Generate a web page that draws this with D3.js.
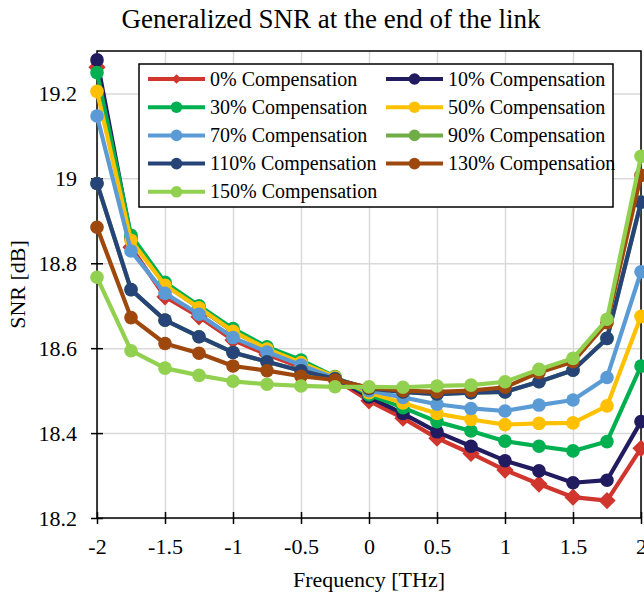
<!DOCTYPE html>
<html>
<head>
<meta charset="utf-8">
<script src="https://cdn.jsdelivr.net/npm/d3@7"></script>
<style>
  body { margin: 0; background: #fff; }
  svg text { font-family: "Liberation Serif", "Times New Roman", Times, serif; fill: #000; }
</style>
</head>
<body>
<div id="chart"></div>
<script>
// Frequency offsets [THz]
const frequencies = [-2, -1.75, -1.5, -1.25, -1, -0.75, -0.5, -0.25, 0, 0.25, 0.5, 0.75, 1, 1.25, 1.5, 1.75, 2];

// SNR [dB] per compensation level
const comp0 = [19.262, 18.838, 18.721, 18.674, 18.619, 18.585, 18.555, 18.527, 18.476, 18.435, 18.388, 18.352, 18.313, 18.280, 18.249, 18.241, 18.364];
const comp10 = [19.279, 18.858, 18.750, 18.695, 18.640, 18.600, 18.565, 18.530, 18.485, 18.446, 18.403, 18.369, 18.335, 18.311, 18.283, 18.289, 18.427];
const comp30 = [19.249, 18.866, 18.755, 18.700, 18.646, 18.603, 18.572, 18.533, 18.490, 18.460, 18.427, 18.405, 18.381, 18.369, 18.358, 18.380, 18.558];
const comp50 = [19.205, 18.854, 18.748, 18.695, 18.640, 18.598, 18.566, 18.532, 18.495, 18.471, 18.446, 18.432, 18.420, 18.423, 18.424, 18.464, 18.675];
const comp70 = [19.147, 18.829, 18.729, 18.680, 18.625, 18.591, 18.560, 18.529, 18.500, 18.484, 18.468, 18.458, 18.452, 18.466, 18.478, 18.531, 18.780];
const comp90 = [18.988, 18.738, 18.666, 18.627, 18.590, 18.568, 18.547, 18.528, 18.505, 18.497, 18.492, 18.495, 18.497, 18.521, 18.548, 18.623, 18.944];
const comp110 = [18.988, 18.738, 18.666, 18.627, 18.590, 18.568, 18.547, 18.528, 18.505, 18.497, 18.492, 18.495, 18.497, 18.521, 18.548, 18.623, 18.944];
const comp130 = [18.885, 18.672, 18.611, 18.588, 18.558, 18.547, 18.534, 18.525, 18.507, 18.500, 18.497, 18.500, 18.508, 18.543, 18.568, 18.660, 19.007];
const comp150 = [18.767, 18.594, 18.553, 18.536, 18.522, 18.515, 18.511, 18.509, 18.509, 18.508, 18.511, 18.513, 18.521, 18.550, 18.576, 18.668, 19.052];

const seriesNames = ["0% Compensation", "10% Compensation", "30% Compensation", "50% Compensation",
  "70% Compensation", "90% Compensation", "110% Compensation", "130% Compensation", "150% Compensation"];
const seriesValues = [comp0, comp10, comp30, comp50, comp70, comp90, comp110, comp130, comp150];
const seriesColors = ["#d0352e", "#211b60", "#00b050", "#ffc000", "#5b9bd5", "#70ad47", "#264478", "#9e480e", "#92d050"];

const xTicks = [-2, -1.5, -1, -0.5, 0, 0.5, 1, 1.5, 2];
const xTickLabels = ["-2", "-1.5", "-1", "-0.5", "0", "0.5", "1", "1.5", "2"];
const yTicks = [18.2, 18.4, 18.6, 18.8, 19, 19.2];
const yTickLabels = ["18.2", "18.4", "18.6", "18.8", "19", "19.2"];

const svgWidth = 644;
const svgHeight = 595;
const marginTop = 51;
const marginLeft = 97;
const marginRight = 3;
const marginBottom = 77;
const width = svgWidth - marginLeft - marginRight;
const height = svgHeight - marginTop - marginBottom;

const svg = d3.select("#chart")
  .append("svg")
  .attr("width", svgWidth)
  .attr("height", svgHeight);

const xScale = d3.scaleLinear().domain([-2, 2]).range([0, width]);
const yScale = d3.scaleLinear().domain([18.2, 19.3]).range([height, 0]);

const chart = svg.append("g")
  .attr("transform", `translate(${marginLeft},${marginTop})`);

// Grid
chart.append("g")
  .call(d3.axisBottom(xScale).tickValues(xTicks).tickSize(-height).tickFormat(""))
  .attr("transform", `translate(0,${height})`)
  .call((g) => g.select(".domain").remove())
  .call((g) => g.selectAll(".tick line").attr("stroke", "#d9d9d9").attr("stroke-width", 1.5));

chart.append("g")
  .call(d3.axisLeft(yScale).tickValues(yTicks).tickSize(-width).tickFormat(""))
  .call((g) => g.select(".domain").remove())
  .call((g) => g.selectAll(".tick line").attr("stroke", "#d9d9d9").attr("stroke-width", 1.5));

// Plot border
chart.append("rect")
  .attr("x", 0).attr("y", 0)
  .attr("width", width).attr("height", height)
  .attr("fill", "none")
  .attr("stroke", "#000")
  .attr("stroke-width", 1.5);

// Axes (ticks crossing the axis line)
const xAxis = chart.append("g")
  .attr("transform", `translate(0,${height})`)
  .call(d3.axisBottom(xScale).tickValues(xTicks).tickSize(6).tickPadding(14)
    .tickFormat((d, i) => xTickLabels[i]))
  .attr("font-family", null)
  .attr("font-size", 22)
  .call((g) => g.select(".domain").remove());
xAxis.selectAll(".tick line").attr("y1", -6).attr("stroke", "#000").attr("stroke-width", 1.5);

const yAxis = chart.append("g")
  .call(d3.axisLeft(yScale).tickValues(yTicks).tickSize(6).tickPadding(14)
    .tickFormat((d, i) => yTickLabels[i]))
  .attr("font-family", null)
  .attr("font-size", 22)
  .call((g) => g.select(".domain").remove());
yAxis.selectAll(".tick line").attr("x1", 6).attr("stroke", "#000").attr("stroke-width", 1.5);

// Series
const line = d3.line()
  .x((d) => xScale(d[0]))
  .y((d) => yScale(d[1]));

const diamond = d3.symbol().type(d3.symbolDiamond2);

seriesValues.forEach(function (vals, si) {
  const pts = vals.map((v, i) => [frequencies[i], v]);
  const g = chart.append("g").attr("class", "series");
  g.append("path")
    .datum(pts)
    .attr("d", line)
    .attr("fill", "none")
    .attr("stroke", seriesColors[si])
    .attr("stroke-width", 4.2)
    .attr("stroke-linejoin", "round");
  if (si === 0) {
    g.selectAll("path.mk")
      .data(pts)
      .join("path")
      .attr("class", "mk")
      .attr("d", diamond.size(190)())
      .attr("transform", (d) => `translate(${xScale(d[0])},${yScale(d[1])})`)
      .attr("fill", seriesColors[si]);
  } else {
    g.selectAll("circle")
      .data(pts)
      .join("circle")
      .attr("cx", (d) => xScale(d[0]))
      .attr("cy", (d) => yScale(d[1]))
      .attr("r", 6.8)
      .attr("fill", seriesColors[si]);
  }
});

// Legend
const legend = svg.append("g").attr("transform", "translate(139,64)");
legend.append("rect")
  .attr("width", 474).attr("height", 143)
  .attr("fill", "#fff")
  .attr("stroke", "#000")
  .attr("stroke-width", 1.5);

seriesNames.forEach(function (name, i) {
  const col = i % 2;
  const row = Math.floor(i / 2);
  const item = legend.append("g")
    .attr("transform", `translate(${9 + col * 238},${15 + row * 28.2})`);
  item.append("line")
    .attr("x1", 0).attr("x2", 57)
    .attr("stroke", seriesColors[i])
    .attr("stroke-width", 4);
  if (i === 0) {
    item.append("path")
      .attr("d", diamond.size(60)())
      .attr("transform", "translate(28.5,0)")
      .attr("fill", seriesColors[i]);
  } else {
    item.append("circle")
      .attr("cx", 28.5).attr("r", 5.8)
      .attr("fill", seriesColors[i]);
  }
  item.append("text")
    .attr("x", 62)
    .attr("dy", "0.33em")
    .attr("font-size", 20)
    .text(name);
});

// Titles
svg.append("text")
  .attr("x", 331).attr("y", 28)
  .attr("text-anchor", "middle")
  .attr("font-size", 27)
  .text("Generalized SNR at the end of the link");

svg.append("text")
  .attr("x", 369).attr("y", 587)
  .attr("text-anchor", "middle")
  .attr("font-size", 22)
  .text("Frequency [THz]");

svg.append("text")
  .attr("transform", `translate(25,${marginTop + height / 2}) rotate(-90)`)
  .attr("text-anchor", "middle")
  .attr("font-size", 22)
  .text("SNR [dB]");
</script>
</body>
</html>
